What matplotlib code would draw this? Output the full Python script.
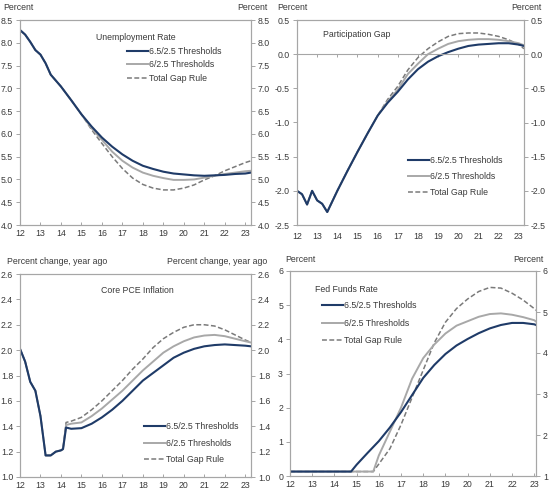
import matplotlib.pyplot as plt

plt.rcParams['font.family'] = ['Liberation Sans', 'DejaVu Sans']
plt.rcParams['font.size'] = 6.3

BLUE = '#1f3b68'
GRAY = '#a8a8a8'
DASH = '#7a7a7a'
AXIS = '#a6a6a6'
TXT = '#3a3a3a'

names = ['6.5/2.5 Thresholds', '6/2.5 Thresholds', 'Total Gap Rule']
year_ticks = list(range(12, 24))

# unemployment rate
x_unemp = [12.0, 12.25, 12.5, 12.75, 13.0, 13.25, 13.5, 13.75, 14.0, 14.5, 15.0, 15.5,
           16.0, 16.5, 17.0, 17.5, 18.0, 18.5, 19.0, 19.5, 20.0, 20.5, 21.0, 21.5,
           22.0, 22.5, 23.0, 23.28]
unemp_hist = [8.28, 8.18, 8.02, 7.84, 7.74, 7.55, 7.3, 7.17, 7.04, 6.74, 6.43]
unemp_a = unemp_hist + [6.16, 5.92, 5.72, 5.55, 5.41, 5.30, 5.23, 5.17, 5.13, 5.11, 5.09,
                        5.08, 5.09, 5.10, 5.12, 5.13, 5.15]
unemp_b = unemp_hist + [6.12, 5.87, 5.61, 5.41, 5.26, 5.15, 5.08, 5.03, 4.99, 4.99, 5.0,
                        5.04, 5.08, 5.12, 5.15, 5.18, 5.19]
unemp_c = unemp_hist + [6.09, 5.79, 5.50, 5.24, 5.03, 4.89, 4.81, 4.77, 4.77, 4.81, 4.88,
                        4.99, 5.08, 5.19, 5.28, 5.37, 5.41]

# participation gap
x_part = [12.0, 12.25, 12.5, 12.75, 13.0, 13.25, 13.5, 14.0, 14.5, 15.0, 15.5, 16.0,
          16.5, 17.0, 17.5, 18.0, 18.5, 19.0, 19.5, 20.0, 20.5, 21.0, 21.5, 22.0,
          22.5, 23.0, 23.26]
part_hist = [-2.0, -2.05, -2.2, -2.0, -2.14, -2.19, -2.31, -2.0, -1.71, -1.43, -1.16, -0.9]
part_a = part_hist + [-0.71, -0.55, -0.37, -0.22, -0.11, -0.03, 0.03, 0.08, 0.12, 0.14,
                      0.15, 0.16, 0.16, 0.14, 0.12]
part_b = part_hist + [-0.69, -0.52, -0.29, -0.14, 0.0, 0.08, 0.15, 0.19, 0.21, 0.22,
                      0.22, 0.21, 0.19, 0.16, 0.13]
part_c = part_hist + [-0.66, -0.47, -0.23, -0.05, 0.08, 0.18, 0.26, 0.30, 0.31, 0.31,
                      0.29, 0.26, 0.21, 0.14, 0.08]

# core PCE inflation
x_pce = [12.0, 12.25, 12.5, 12.75, 13.0, 13.25, 13.5, 13.75, 14.0, 14.1, 14.25, 14.5,
         15.0, 15.5, 16.0, 16.5, 17.0, 17.5, 18.0, 18.5, 19.0, 19.5, 20.0, 20.5,
         21.0, 21.5, 22.0, 22.5, 23.0, 23.28]
pce_hist = [2.01, 1.91, 1.75, 1.68, 1.48, 1.17, 1.17, 1.2, 1.21, 1.22]
pce_a = pce_hist + [1.39, 1.38, 1.385, 1.42, 1.47, 1.53, 1.60, 1.68, 1.76, 1.82, 1.88,
                    1.94, 1.98, 2.01, 2.03, 2.04, 2.045, 2.04, 2.035, 2.03]
pce_b = pce_hist + [1.41, 1.42, 1.43, 1.48, 1.54, 1.61, 1.68, 1.76, 1.84, 1.91, 1.98,
                    2.03, 2.07, 2.10, 2.115, 2.12, 2.11, 2.09, 2.07, 2.06]
pce_c = pce_hist + [1.43, 1.44, 1.47, 1.53, 1.60, 1.68, 1.76, 1.85, 1.93, 2.02, 2.09,
                    2.14, 2.18, 2.20, 2.20, 2.19, 2.16, 2.12, 2.08, 2.06]

# fed funds rate
x_ffr = [12.0, 14.75, 15.0, 15.5, 15.75, 16.0, 16.5, 17.0, 17.5, 18.0, 18.5, 19.0,
         19.5, 20.0, 20.5, 21.0, 21.5, 22.0, 22.5, 23.0, 23.08]
ffr_a = [0.13, 0.13, 0.33, 0.68, 0.85, 1.02, 1.42, 1.87, 2.37, 2.87, 3.25, 3.57,
         3.82, 4.01, 4.18, 4.32, 4.42, 4.48, 4.48, 4.44, 4.42]
ffr_b = [0.13, 0.13, 0.13, 0.13, 0.13, 0.6, 1.3, 2.0, 2.85, 3.45, 3.85, 4.17,
         4.4, 4.53, 4.66, 4.74, 4.76, 4.72, 4.65, 4.56, 4.52]
ffr_c = [0.13, 0.13, 0.13, 0.13, 0.13, 0.35, 0.8, 1.5, 2.3, 3.1, 3.9, 4.5,
         4.9, 5.18, 5.4, 5.52, 5.5, 5.35, 5.15, 4.9, 4.85]

fig = plt.figure(figsize=(5.5, 4.94), dpi=100)


def px(x, y):
    return x / 550, 1 - y / 494


def rect(l, t, r, b):
    return [l / 550, 1 - b / 494, (r - l) / 550, (b - t) / 494]


def panel(box, x, a, b, c, ylim, yticks, fmt, xmax, rlim=None, rticks=None):
    ax = fig.add_axes(box)
    lc, = ax.plot(x, c, color=DASH, lw=1.1, dashes=(3.2, 1.6))
    lb, = ax.plot(x, b, color=GRAY, lw=1.4)
    la, = ax.plot(x, a, color=BLUE, lw=1.5)
    ax.set_xlim(12, xmax)
    ax.set_ylim(*ylim)
    ax.set_yticks(yticks)
    ax.set_yticklabels([fmt.format(v) for v in yticks])
    ax.set_xticks(year_ticks)
    for s in ax.spines.values():
        s.set_color(AXIS)
        s.set_linewidth(0.8)
    ax.tick_params(axis='y', direction='out', length=3, width=0.7, color=AXIS,
                   labelcolor=TXT, pad=2)
    ax.tick_params(axis='x', direction='in', length=2.5, width=0.7, color=AXIS,
                   labelcolor=TXT, pad=3)
    tw = ax.twinx()
    if rlim is None:
        rlim, rticks = ylim, yticks
    tw.set_ylim(*rlim)
    tw.set_yticks(rticks)
    tw.set_yticklabels([fmt.format(v) for v in rticks])
    for s in tw.spines.values():
        s.set_color(AXIS)
        s.set_linewidth(0.8)
    tw.tick_params(axis='y', direction='out', length=3, width=0.7, color=AXIS,
                   labelcolor=TXT, pad=2)
    return ax, [la, lb, lc]


def add_legend(ax, handles, x, y, space):
    ax.legend(handles, names, loc='upper left', bbox_to_anchor=(x, y), frameon=False,
              handlelength=2.4, handletextpad=0.15, borderpad=0, borderaxespad=0,
              labelspacing=space, labelcolor=TXT)


# top left
ax1, h1 = panel(rect(20, 20, 251, 225), x_unemp, unemp_a, unemp_b, unemp_c,
                (4.0, 8.5), [4.0, 4.5, 5.0, 5.5, 6.0, 6.5, 7.0, 7.5, 8.0, 8.5], '{:.1f}', 23.28)
ax1.text(0.5, 0.915, 'Unemployment Rate', transform=ax1.transAxes, ha='center',
         va='center', color=TXT)
add_legend(ax1, h1, 0.463, 0.87, 0.55)

# top right
ax2, h2 = panel(rect(297, 20, 524, 225), x_part, part_a, part_b, part_c,
                (-2.5, 0.5), [-2.5, -2.0, -1.5, -1.0, -0.5, 0.0, 0.5], '{:.1f}', 23.26)
ax2.spines['bottom'].set_position(('data', 0))
ax2.tick_params(axis='x', direction='out', labelbottom=False)
sec = ax2.secondary_xaxis('bottom')
sec.set_xticks(year_ticks)
sec.spines['bottom'].set_color(AXIS)
sec.spines['bottom'].set_linewidth(0.8)
sec.tick_params(length=0, labelcolor=TXT, pad=5)
ax2.text(0.115, 0.927, 'Participation Gap', transform=ax2.transAxes, ha='left',
         va='center', color=TXT)
add_legend(ax2, h2, 0.489, 0.335, 0.8)

# bottom left
ax3, h3 = panel(rect(20, 274, 251, 477), x_pce, pce_a, pce_b, pce_c,
                (1.0, 2.6), [1.0, 1.2, 1.4, 1.6, 1.8, 2.0, 2.2, 2.4, 2.6], '{:.1f}', 23.28)
ax3.text(0.51, 0.921, 'Core PCE Inflation', transform=ax3.transAxes, ha='center',
         va='center', color=TXT)
add_legend(ax3, h3, 0.537, 0.27, 0.85)

# bottom right
ax4, h4 = panel(rect(290, 271, 536, 476), x_ffr, ffr_a, ffr_b, ffr_c,
                (0, 6), [0, 1, 2, 3, 4, 5, 6], '{:.0f}', 23.08,
                rlim=(1, 6), rticks=[1, 2, 3, 4, 5, 6])
ax4.text(0.10, 0.912, 'Fed Funds Rate', transform=ax4.transAxes, ha='left',
         va='center', color=TXT)
add_legend(ax4, h4, 0.13, 0.852, 0.95)

# unit labels above the panels
fig.text(*px(3, 7.5), 'Percent', ha='left', va='center', color=TXT)
fig.text(*px(267, 7.5), 'Percent', ha='right', va='center', color=TXT)
fig.text(*px(277, 7.5), 'Percent', ha='left', va='center', color=TXT)
fig.text(*px(542, 7.5), 'Percent', ha='right', va='center', color=TXT)
fig.text(*px(7, 262), 'Percent change, year ago', ha='left', va='center', color=TXT)
fig.text(*px(267, 262), 'Percent change, year ago', ha='right', va='center', color=TXT)
fig.text(*px(285, 259), 'Percent', ha='left', va='center', color=TXT)
fig.text(*px(544, 259), 'Percent', ha='right', va='center', color=TXT)

fig.savefig('out.png', dpi=100)
